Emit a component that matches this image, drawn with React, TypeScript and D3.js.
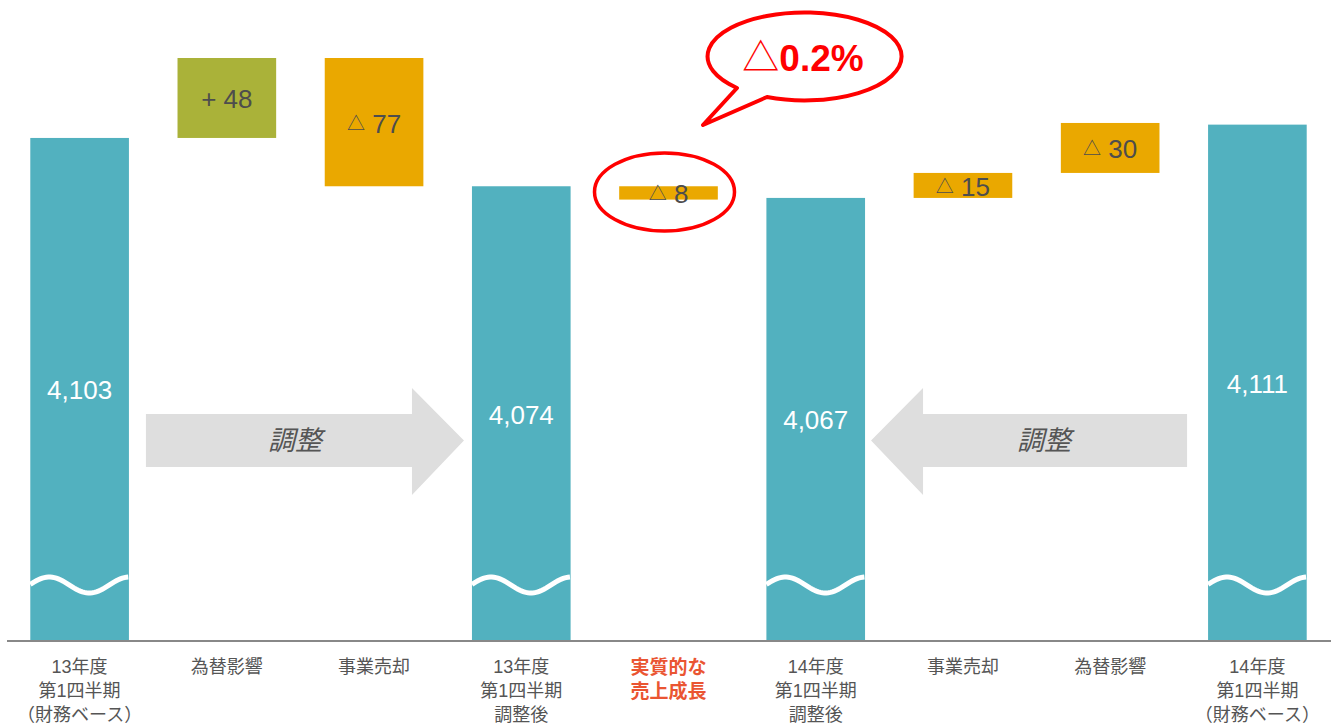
import React from "react";
import * as d3 from "d3";

const categories: string[][] = [
  ["13年度", "第1四半期", "（財務ベース）"],
  ["為替影響"],
  ["事業売却"],
  ["13年度", "第1四半期", "調整後"],
  ["実質的な", "売上成長"],
  ["14年度", "第1四半期", "調整後"],
  ["事業売却"],
  ["為替影響"],
  ["14年度", "第1四半期", "（財務ベース）"],
];
const kinds = ["total", "up", "down", "total", "down", "total", "up", "up", "total"];
const values = [4103, 48, 77, 4074, 8, 4067, 15, 30, 4111];
const deltaPrefix = ["", "+ ", "△ ", "", "△ ", "", "△ ", "△ ", ""];
const floatColors = ["", "#aab239", "#eaa800", "", "#eaa800", "", "#eaa800", "#eaa800", ""];
const highlightIndex = 4;
const calloutText = "△0.2%";
const arrowText = "調整";
const axisMin = 3801;
const axisMax = 4151;

const W = 1335;
const H = 726;
const TEAL = "#52b1bf";
const FONT = "'Liberation Sans', Arial, 'Noto Sans CJK JP', sans-serif";
const JFONT = "'Liberation Sans', 'Noto Sans CJK JP', sans-serif";

export default function App() {
  const x = d3
    .scaleBand<number>()
    .domain(d3.range(categories.length))
    .range([6, 1331])
    .paddingInner(0.33)
    .paddingOuter(0.165);
  const y = d3.scaleLinear().domain([axisMin, axisMax]).range([641, 58]);
  const baseY = y(axisMin);
  const bw = x.bandwidth();

  let level = values[0];
  const bars = values.map((v, i) => {
    const k = kinds[i];
    if (k === "total") {
      level = v;
      return { lo: axisMin, hi: v };
    }
    if (k === "up") {
      const lo = level;
      level = level + v;
      return { lo, hi: level };
    }
    const hi = level;
    level = level - v;
    return { lo: level, hi };
  });

  const fmt = d3.format(",");

  const wave = (x0: number) => {
    const pts: [number, number][] = d3.range(0, bw + 0.5, 2).map((dx) => [
      x0 + dx,
      585 - 8 * Math.sin((2 * Math.PI * (dx + 1)) / 80),
    ]);
    return d3.line()(pts) as string;
  };

  const arrowBodyTop = 414;
  const arrowBodyBot = 467;
  const arrowHeadTop = 388;
  const arrowHeadBot = 495;
  const midY = (arrowBodyTop + arrowBodyBot) / 2;
  const lx0 = (x(0) as number) + bw + 17;
  const ltip = (x(3) as number) - 8;
  const lneck = ltip - 52;
  const leftArrow = `M${lx0},${arrowBodyTop} L${lneck},${arrowBodyTop} L${lneck},${arrowHeadTop} L${ltip},${midY} L${lneck},${arrowHeadBot} L${lneck},${arrowBodyBot} L${lx0},${arrowBodyBot} Z`;
  const rx1 = (x(8) as number) - 21;
  const rtip = (x(5) as number) + bw + 6;
  const rneck = rtip + 52;
  const rightArrow = `M${rx1},${arrowBodyTop} L${rneck},${arrowBodyTop} L${rneck},${arrowHeadTop} L${rtip},${midY} L${rneck},${arrowHeadBot} L${rneck},${arrowBodyBot} L${rx1},${arrowBodyBot} Z`;

  const hx = (x(highlightIndex) as number) + bw / 2;
  const hb = bars[highlightIndex];
  const hcy = (y(hb.lo) + y(hb.hi)) / 2;

  const bcx = 803, bcy = 56, brx = 97, bry = 44;
  const bubble = `M767,97 A${brx} ${bry} 0 1 0 737,88 L703,125 Z`;

  return (
    <svg width={W} height={H} style={{ position: "absolute", left: 0, top: 0, background: "#fff" }}>
      <path d={leftArrow} fill="#dedede" />
      <path d={rightArrow} fill="#dedede" />
      <text x={(lx0 + lneck) / 2 + 16} y={midY} textAnchor="middle" dominantBaseline="central" fontSize={27} fontStyle="italic" fill="#555" fontFamily={JFONT}>{arrowText}</text>
      <text x={(rx1 + rneck) / 2 - 11} y={midY} textAnchor="middle" dominantBaseline="central" fontSize={27} fontStyle="italic" fill="#555" fontFamily={JFONT}>{arrowText}</text>

      {bars.map((b, i) => {
        const bx = x(i) as number;
        const k = kinds[i];
        const top = y(b.hi);
        const bot = y(b.lo);
        if (k === "total") {
          return (
            <g key={i}>
              <rect x={bx} y={top} width={bw} height={bot - top} fill={TEAL} />
              <path d={wave(bx)} fill="none" stroke="#fff" strokeWidth={5} />
              <text x={bx + bw / 2} y={(top + bot) / 2 + 1} textAnchor="middle" dominantBaseline="central" fontSize={26} fill="#fff" fontFamily={FONT}>{fmt(values[i])}</text>
            </g>
          );
        }
        const pre = deltaPrefix[i];
        return (
          <g key={i}>
            <rect x={bx} y={top} width={bw} height={bot - top} fill={floatColors[i]} />
            <text x={bx + bw / 2} y={(top + bot) / 2 + 1.5} textAnchor="middle" dominantBaseline="central" fontSize={26} fill="#4d4d4d" fontFamily={FONT}>
              {pre.startsWith("△") ? (
                <>
                  <tspan fontSize={18}>△</tspan>
                  <tspan> {values[i]}</tspan>
                </>
              ) : (
                <tspan>{pre + values[i]}</tspan>
              )}
            </text>
          </g>
        );
      })}

      <line x1={7} x2={1331} y1={baseY} y2={baseY} stroke="#888" strokeWidth={2} />

      {categories.map((lines, i) => (
        <text key={i} x={(x(i) as number) + bw / 2} y={667} textAnchor="middle" fontSize={i === highlightIndex ? 19 : 18} fill={i === highlightIndex ? "#ea5532" : "#555"} fontWeight={i === highlightIndex ? "bold" : "normal"} fontFamily={JFONT} dominantBaseline="central">
          {lines.map((l, j) => (
            <tspan key={j} x={(x(i) as number) + bw / 2} dy={j === 0 ? 0 : 24}>{l}</tspan>
          ))}
        </text>
      ))}

      <ellipse cx={hx - 4} cy={hcy - 1} rx={70} ry={39} fill="none" stroke="#ff0000" strokeWidth={3.5} />

      <path d={bubble} fill="#fff" stroke="#ff0000" strokeWidth={4} strokeLinejoin="round" />
      <text x={bcx} y={bcy + 2} textAnchor="middle" dominantBaseline="central" fontSize={37} fontWeight="bold" fill="#ff0000" fontFamily={FONT}>
        <tspan fontWeight="normal">△</tspan>
        <tspan>{calloutText.slice(1)}</tspan>
      </text>
    </svg>
  );
}
